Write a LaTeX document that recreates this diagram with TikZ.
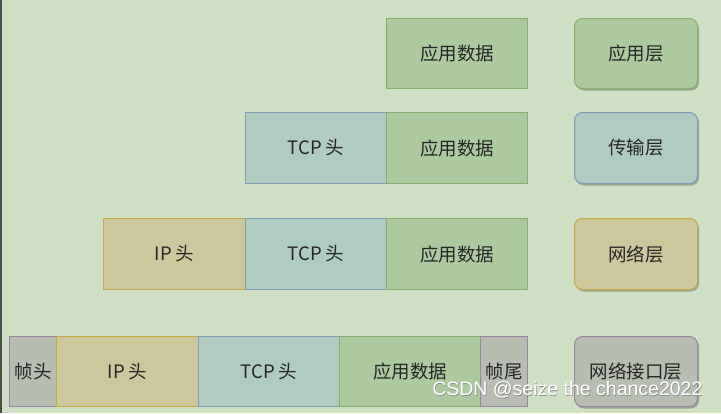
\documentclass[tikz,border=0pt]{standalone}
\usepackage{fontspec}
\setmainfont{Noto Sans CJK SC}
\newfontfamily\wmfont{Liberation Sans}
\usetikzlibrary{shadows}
\definecolor{bg}{HTML}{CFDFC3}
\definecolor{appf}{HTML}{ADCA9E}
\definecolor{appd}{HTML}{86B06E}
\definecolor{tcpf}{HTML}{B0CBC0}
\definecolor{tcpd}{HTML}{7E9EB8}
\definecolor{ipf}{HTML}{CDC89B}
\definecolor{ipd}{HTML}{C6A83E}
\definecolor{frf}{HTML}{B7BDB1}
\definecolor{frd}{HTML}{9A84A4}
\tikzset{
  cell/.style={draw, line width=1pt, inner sep=0pt, font=\fontsize{18.5}{20}\selectfont, text=black!85},
  app/.style={cell, fill=appf, draw=appd},
  tcp/.style={cell, fill=tcpf, draw=tcpd},
  ip/.style={cell, fill=ipf, draw=ipd},
  fr/.style={cell, fill=frf, draw=frd},
  layer/.style={cell, rounded corners=8pt, minimum width=123pt, minimum height=70pt,
    drop shadow={shadow xshift=1.5pt, shadow yshift=-2pt, opacity=0.25, fill=black}},
}
\begin{document}
\begin{tikzpicture}[x=1pt,y=1pt]
\fill[bg] (0,0) rectangle (721,-413);
\useasboundingbox (0,0) rectangle (721,-413);
\draw[black!70, line width=1.5pt] (0.75,0) -- (0.75,-413);
% Row 1
\node[app, minimum width=141pt, minimum height=70pt, anchor=north west] (a1) at (386,-18) {应用数据};
\node[layer, fill=appf, draw=appd, anchor=north west] (l1) at (574,-18) {应用层};
% Row 2
\node[tcp, minimum width=141pt, minimum height=71pt, anchor=north west] (t2) at (245,-112) {TCP 头};
\node[app, minimum width=141pt, minimum height=71pt, anchor=north west] (a2) at (386,-112) {应用数据};
\node[layer, fill=tcpf, draw=tcpd, anchor=north west, minimum height=71pt] (l2) at (574,-112) {传输层};
% Row 3
\node[ip, minimum width=142pt, minimum height=71pt, anchor=north west] (i3) at (103,-218) {IP 头};
\node[tcp, minimum width=141pt, minimum height=71pt, anchor=north west] (t3) at (245,-218) {TCP 头};
\node[app, minimum width=141pt, minimum height=71pt, anchor=north west] (a3) at (386,-218) {应用数据};
\node[layer, fill=ipf, draw=ipd, anchor=north west, minimum height=71pt] (l3) at (574,-218) {网络层};
% Row 4
\node[fr, minimum width=47pt, minimum height=70pt, anchor=north west] (h4) at (9,-336) {帧头};
\node[ip, minimum width=142pt, minimum height=70pt, anchor=north west] (i4) at (56,-336) {IP 头};
\node[tcp, minimum width=141pt, minimum height=70pt, anchor=north west] (t4) at (198,-336) {TCP 头};
\node[app, minimum width=141pt, minimum height=70pt, anchor=north west] (a4) at (339,-336) {应用数据};
\node[fr, minimum width=47pt, minimum height=70pt, anchor=north west] (e4) at (480,-336) {帧尾};
\node[layer, fill=frf, draw=frd, anchor=north west] (l4) at (574,-336) {网络接口层};
% watermark
\node[font=\wmfont\fontsize{19.5}{21}\selectfont, text=black!45, anchor=east] (wm0) at (706.6,-390.6) {CSDN @seize the chance2022};
\node[font=\wmfont\fontsize{19.5}{21}\selectfont, text=white, anchor=east] (wm) at (706,-390) {CSDN @seize the chance2022};
\end{tikzpicture}
\end{document}
